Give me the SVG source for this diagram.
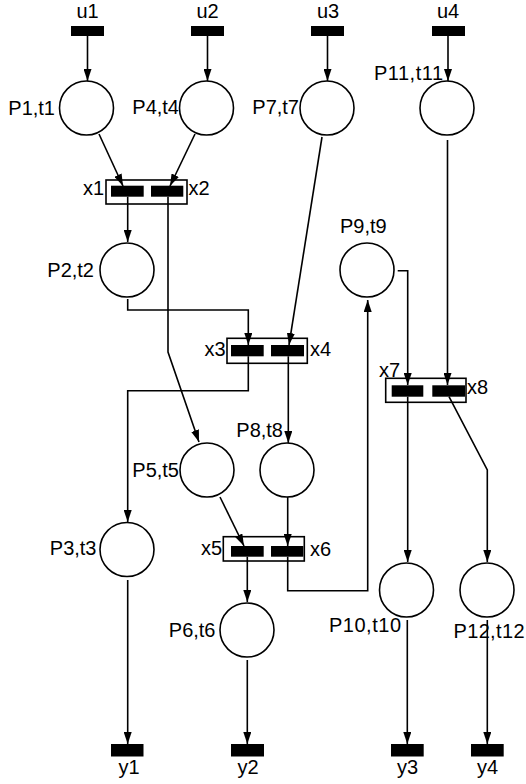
<svg xmlns="http://www.w3.org/2000/svg" width="526" height="784" viewBox="0 0 526 784">
<style>
text{font-family:"Liberation Sans",Arial,sans-serif;font-size:20px;fill:#000}
.pl{fill:#fff;stroke:#000;stroke-width:1.6}
.bar{fill:#000}
.box{fill:#fff;stroke:#000;stroke-width:1.6}
.c{fill:none;stroke:#000;stroke-width:1.6;marker-end:url(#ah)}
.s{text-anchor:middle}
.e{text-anchor:end}
</style>
<defs>
<marker id="ah" markerUnits="userSpaceOnUse" markerWidth="12" markerHeight="8" refX="12" refY="4" orient="auto">
<path d="M0,0 L12,4 L0,8 z" fill="#000"/>
</marker>
</defs>
<g id="u1"><rect class="bar" x="71" y="26" width="33" height="10"/><text class="s" x="87.5" y="18">u1</text></g>
<g id="u2"><rect class="bar" x="191" y="26" width="33" height="10"/><text class="s" x="207.5" y="18">u2</text></g>
<g id="u3"><rect class="bar" x="311" y="26" width="33" height="10"/><text class="s" x="328" y="18">u3</text></g>
<g id="u4"><rect class="bar" x="432" y="26" width="33" height="10"/><text class="s" x="448" y="18">u4</text></g>
<g id="P1"><circle class="pl" cx="86.5" cy="108" r="27"/><text class="e" x="55" y="114.5">P1,t1</text></g>
<g id="P4"><circle class="pl" cx="206.5" cy="108" r="27"/><text class="e" x="179" y="114">P4,t4</text></g>
<g id="P7"><circle class="pl" cx="327" cy="108" r="27"/><text class="e" x="299" y="114">P7,t7</text></g>
<g id="P11"><circle class="pl" cx="447" cy="108" r="27"/><text x="374" y="80" textLength="69">P11,t11</text></g>
<g id="x1x2"><rect class="box" x="106" y="180" width="81" height="24"/><rect class="bar" x="111" y="185.7" width="32.7" height="11"/><rect class="bar" x="151" y="185.7" width="32.3" height="11"/><text class="e" x="104" y="195">x1</text><text x="188.5" y="195">x2</text></g>
<g id="P2"><circle class="pl" cx="127" cy="270" r="27"/><text class="e" x="94" y="277">P2,t2</text></g>
<g id="P9"><circle class="pl" cx="367" cy="270" r="27"/><text x="340" y="233">P9,t9</text></g>
<g id="x3x4"><rect class="box" x="227" y="338.3" width="80.3" height="25"/><rect class="bar" x="231" y="345" width="32.7" height="11.3"/><rect class="bar" x="271" y="345" width="33" height="11.3"/><text class="e" x="225.5" y="356">x3</text><text x="310" y="356">x4</text></g>
<g id="x7x8"><rect class="box" x="385.7" y="378.3" width="80.3" height="24"/><rect class="bar" x="391.7" y="385.3" width="31.6" height="11.4"/><rect class="bar" x="432.3" y="385.3" width="32.7" height="11.4"/><text x="379" y="377">x7</text><text x="467" y="394">x8</text></g>
<g id="P5"><circle class="pl" cx="207" cy="470" r="27"/><text class="e" x="179" y="476.5">P5,t5</text></g>
<g id="P8"><circle class="pl" cx="287" cy="470" r="27"/><text class="e" x="283" y="437">P8,t8</text></g>
<g id="P3"><circle class="pl" cx="127" cy="549.5" r="27"/><text class="e" x="96.5" y="555">P3,t3</text></g>
<g id="x5x6"><rect class="box" x="223.3" y="536.7" width="81" height="24.3"/><rect class="bar" x="231" y="546" width="32.7" height="10.7"/><rect class="bar" x="271" y="546" width="32.3" height="10.7"/><text class="e" x="222" y="555">x5</text><text x="310" y="556">x6</text></g>
<g id="P6"><circle class="pl" cx="247" cy="630" r="27"/><text class="e" x="215.5" y="636.5">P6,t6</text></g>
<g id="P10"><circle class="pl" cx="406.5" cy="590" r="27"/><text x="329" y="632" textLength="72">P10,t10</text></g>
<g id="P12"><circle class="pl" cx="487" cy="590" r="27"/><text x="453.5" y="638" textLength="71">P12,t12</text></g>
<g id="y1"><rect class="bar" x="111" y="744" width="32.5" height="12.5"/><text class="s" x="129" y="774">y1</text></g>
<g id="y2"><rect class="bar" x="231" y="744" width="33" height="12.5"/><text class="s" x="248" y="774">y2</text></g>
<g id="y3"><rect class="bar" x="391" y="744" width="32.7" height="12.5"/><text class="s" x="407.5" y="774">y3</text></g>
<g id="y4"><rect class="bar" x="471" y="744" width="32.7" height="12.5"/><text class="s" x="487.5" y="774">y4</text></g>
<g id="connectors">
<path class="c" d="M87.5,36 V81"/>
<path class="c" d="M207.5,36 V81"/>
<path class="c" d="M327.5,36 V81"/>
<path class="c" d="M448,36 V81"/>
<path class="c" d="M99,134 L123,186"/>
<path class="c" d="M195,134 L170,186"/>
<path class="c" d="M127.7,196.7 V242"/>
<path class="c" d="M168,196.7 V352 L199,442"/>
<path class="c" d="M127.7,299 V310 H248.3 V345"/>
<path class="c" d="M322,137 L289,345"/>
<path class="c" d="M248.3,356.3 V390.7 H127.7 V522"/>
<path class="c" d="M288.3,356.3 V443"/>
<path class="c" d="M220,497 L244,546"/>
<path class="c" d="M287.7,497 V546"/>
<path class="c" d="M247.3,556.7 V602"/>
<path class="c" d="M287.7,556.7 V590.7 H367.7 V300"/>
<path class="c" d="M397.7,270.7 H407.7 V385"/>
<path class="c" d="M447.5,140 V385"/>
<path class="c" d="M407.7,396.7 V562"/>
<path class="c" d="M449,396.7 L487.3,470 V562"/>
<path class="c" d="M127.7,580 V744"/>
<path class="c" d="M247.3,660 V744"/>
<path class="c" d="M407.3,620 V744"/>
<path class="c" d="M487.3,620 V744"/>
</g>
</svg>
